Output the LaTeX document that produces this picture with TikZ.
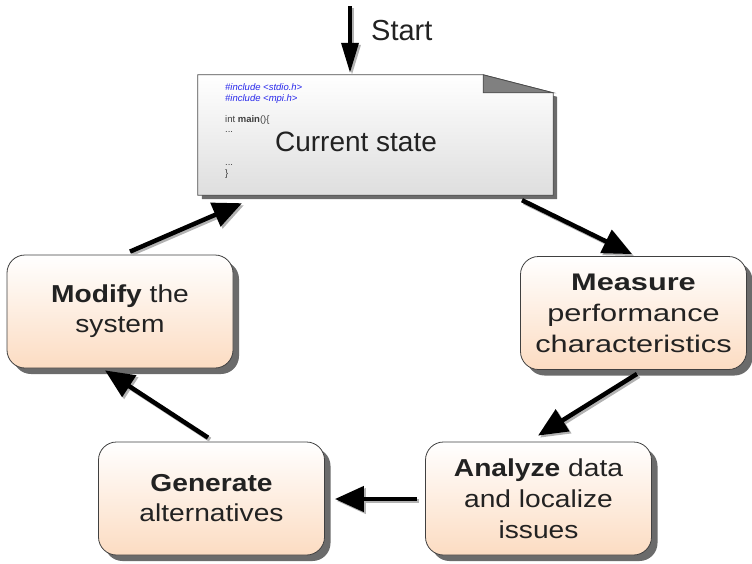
\documentclass[tikz,border=0pt]{standalone}
\usepackage{fontspec}
\setmainfont{Liberation Sans}
\newfontfamily\boxfont{Liberation Sans}[FakeStretch=1.15]
\newfontfamily\boxfontw{Liberation Sans}[FakeStretch=1.28]
\usetikzlibrary{arrows.meta,calc,shadows}
\definecolor{peach}{RGB}{252,220,194}
\definecolor{codeblue}{RGB}{40,40,235}
\definecolor{txt}{RGB}{34,34,34}
\definecolor{docgray}{RGB}{222,222,222}
\begin{document}
\begin{tikzpicture}[x=1pt,y=-1pt,
  box/.style={rectangle, rounded corners=18pt, draw=black!75, line width=0.8pt,
    top color=white, bottom color=peach, minimum width=226pt, minimum height=113pt,
    align=center, text=txt, font=\boxfont\fontsize{24.5}{30}\selectfont,
    drop shadow={shadow xshift=6pt, shadow yshift=-6pt, fill=black!58, opacity=1}},
  flow/.style={line width=4.5pt, -{Triangle[length=29pt,width=25pt]}},
  flowsh/.style={flow, draw=black!30, fill=black!30, transform canvas={shift={(2pt,-2pt)}}},
  code/.style={anchor=base west, inner sep=0pt, font=\fontsize{9.5}{11}\selectfont, text=black!75}
]
\useasboundingbox (0,0) rectangle (752,563);

% document node
\node[minimum width=355pt, minimum height=120pt, inner sep=0pt] (doc) at (375.5,135) {};
\fill[black!58] ($(doc.north west)+(4,4)$) -- ($(doc.north east)+(-66,4)$) -- ($(doc.north east)+(4,22)$)
  -- ($(doc.south east)+(4,4)$) -- ($(doc.south west)+(4,4)$) -- cycle;
\draw[black!70, line width=0.8pt, top color=white, bottom color=docgray]
  (doc.north west) -- ($(doc.north east)+(-70,0)$) -- ($(doc.north east)+(0,18)$)
  -- (doc.south east) -- (doc.south west) -- cycle;
\draw[black!70, line width=0.8pt, fill=black!50]
  ($(doc.north east)+(-70,0)$) -- ($(doc.north east)+(-70,18)$) -- ($(doc.north east)+(0,18)$) -- cycle;

\node[code, text=codeblue, font=\fontsize{9.5}{11}\selectfont\itshape] (c1) at (225,90) {\#include <stdio.h>};
\node[code, text=codeblue, font=\fontsize{9.5}{11}\selectfont\itshape] (c2) at (225,101) {\#include <mpi.h>};
\node[code] (c3) at (225,122) {int \textbf{main}()\{};
\node[code] (c4) at (225,132) {...};
\node[code] (c5) at (225,165) {...};
\node[code] (c6) at (225,176) {\}};
\node[anchor=base, inner sep=0pt, text=txt, font=\fontsize{28}{32}\selectfont] (cur) at (356,151) {Current state};

% start
\coordinate (s0) at (350,6);
\draw[line width=3.5pt, black!30, transform canvas={shift={(2pt,-2pt)}}, -{Triangle[length=30pt,width=17pt]}] (s0) -- ($(doc.north)+(-25.5,-2)$);
\draw[line width=3.5pt, -{Triangle[length=30pt,width=17pt]}] (s0) -- ($(doc.north)+(-25.5,-2)$);
\node[anchor=base west, inner sep=0pt, text=txt, font=\fontsize{29}{32}\selectfont] (start) at (371,40) {Start};

% boxes
\node[box] (modify) at (120,311.5) {\textbf{Modify} the\\system};
\node[box, font=\boxfontw\fontsize{24}{31}\selectfont] (measure) at (633.5,313) {\textbf{Measure}\\performance\\characteristics};
\node[box, font=\boxfont\fontsize{24.5}{31}\selectfont] (analyze) at (538.5,498.5) {\textbf{Analyze} data\\and localize\\issues};
\node[box] (generate) at (211.5,498.5) {\textbf{Generate}\\alternatives};

% arrows
\foreach \st in {flowsh, flow}{
  \draw[\st] ($(modify.north)+(10,-3)$) -- ($(doc.south)+(-133.5,8)$);
  \draw[\st] ($(doc.south)+(146.5,5)$) -- ($(measure.north)+(-1.5,-2)$);
  \draw[\st] ($(measure.south)+(3.5,4)$) -- ($(analyze.north)+(-0.5,-6)$);
  \draw[\st] ($(analyze.west)+(-8,0.5)$) -- ($(generate.east)+(10,0.5)$);
  \draw[\st] ($(generate.north)+(-3.5,-4)$) -- ($(modify.south)+(-15,2)$);
}
\end{tikzpicture}
\end{document}
